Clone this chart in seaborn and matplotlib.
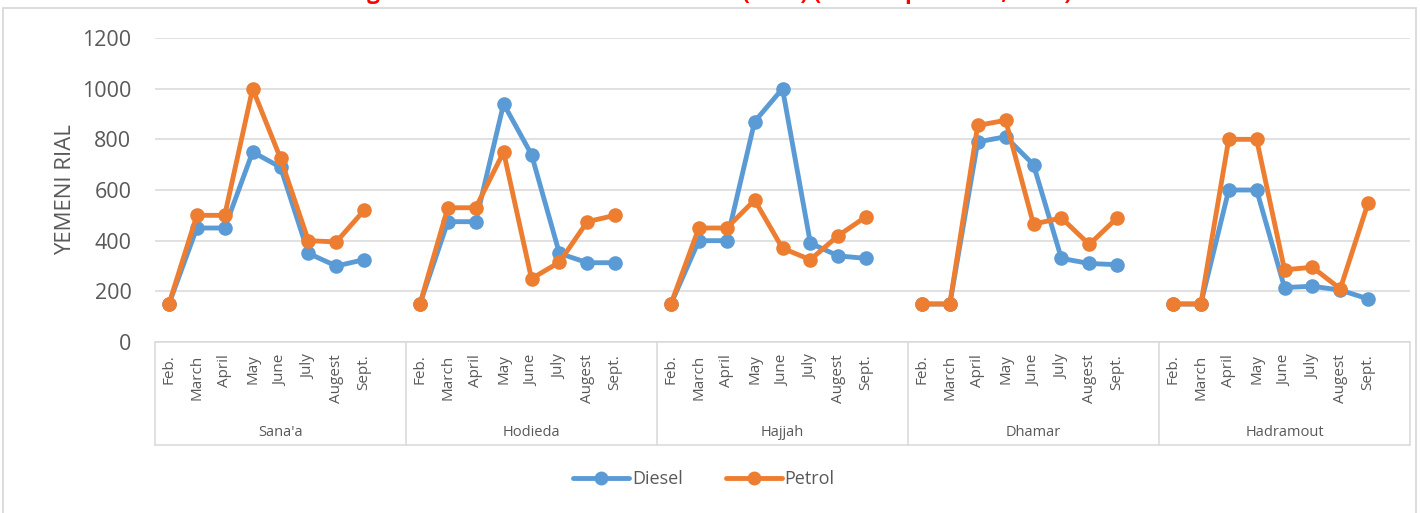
import matplotlib
matplotlib.use("Agg")
import matplotlib.pyplot as plt
import seaborn as sns
import pandas as pd
import numpy as np
from matplotlib.lines import Line2D
from matplotlib.patches import Rectangle

regions = ["Sana'a", "Hodieda", "Hajjah", "Dhamar", "Hadramout"]
months = ["Feb.", "March", "April", "May", "June", "July", "Augest", "Sept."]

diesel = {
    "Sana'a":    [150, 450, 450, 750, 690, 350, 300, 325],
    "Hodieda":   [150, 475, 475, 940, 740, 350, 313, 313],
    "Hajjah":    [150, 400, 400, 870, 1000, 390, 340, 330],
    "Dhamar":    [150, 150, 790, 810, 700, 330, 310, 305],
    "Hadramout": [150, 150, 600, 600, 215, 220, 205, 170],
}
petrol = {
    "Sana'a":    [150, 500, 500, 1000, 725, 400, 395, 520],
    "Hodieda":   [150, 530, 530, 750, 250, 315, 475, 500],
    "Hajjah":    [150, 450, 450, 560, 370, 325, 420, 495],
    "Dhamar":    [150, 150, 855, 875, 465, 490, 385, 490],
    "Hadramout": [150, 150, 800, 800, 285, 295, 210, 550],
}
series_names = ["Diesel", "Petrol"]
colors = {"Diesel": "#5B9BD5", "Petrol": "#ED7D31"}
yticks = [0, 200, 400, 600, 800, 1000, 1200]
title = "Figure 5: Prices of Diesel and Petrol (YR/L) (Feb - September, 2015)"

SLOTS = 9  # 8 months + one empty slot per region
rows = []
for g, r in enumerate(regions):
    for m, mon in enumerate(months):
        slot = g * SLOTS + m
        rows.append(dict(slot=slot, region=r, month=mon, fuel="Diesel", price=diesel[r][m]))
        rows.append(dict(slot=slot, region=r, month=mon, fuel="Petrol", price=petrol[r][m]))
df = pd.DataFrame(rows)

sns.set_theme(style="white")
plt.rcParams['font.family'] = ['Open Sans', 'DejaVu Sans']

fig = plt.figure(figsize=(14.2, 5.13), dpi=100)
W, H = 1420, 513
ax = fig.add_axes([155 / W, 1 - 342 / H, (1410 - 155) / W, (342 - 38) / H])

sns.lineplot(data=df, x="slot", y="price", hue="fuel", units="region", estimator=None,
             hue_order=series_names, palette=colors, marker="o", markersize=10.5,
             markeredgewidth=0, linewidth=3.5, legend=False, ax=ax, zorder=3)

ax.set_xlim(-0.5, len(regions) * SLOTS - 0.5)
ax.set_ylim(0, 1200)
ax.set_yticks(yticks)
ax.yaxis.grid(True, color="#D9D9D9", linewidth=1.1)
ax.xaxis.grid(False)
for s in ax.spines.values():
    s.set_visible(False)
ax.tick_params(axis="y", length=0, pad=17, labelsize=15.5, labelcolor="#595959")
ax.set_ylabel("YEMENI RIAL", fontsize=16, color="#595959", labelpad=4)
ax.set_xlabel("")

xt = [g * SLOTS + m for g in range(len(regions)) for m in range(len(months))]
xl = [mon for g in range(len(regions)) for mon in months]
ax.set_xticks(xt)
ax.set_xticklabels(xl, rotation=90, fontsize=11, color="#595959", va="top", ha="center")
ax.tick_params(axis="x", length=0, pad=9)

# category axis frame
line_kw = dict(color="#D9D9D9", linewidth=1.1, clip_on=False)
ybot = -(445 - 342) / (342 - 38)
trans = ax.get_xaxis_transform()
for g in range(len(regions) + 1):
    xb = g * SLOTS - 0.5
    ax.plot([xb, xb], [0, ybot], transform=trans, **line_kw)
ax.plot([-0.5, len(regions) * SLOTS - 0.5], [ybot, ybot], transform=trans, **line_kw)
ax.plot([-0.5, len(regions) * SLOTS - 0.5], [0, 0], transform=trans, **line_kw)
yreg = -(432 - 342) / (342 - 38)
for g, r in enumerate(regions):
    ax.text(g * SLOTS + 4, yreg, r, transform=trans, ha="center", va="center",
            fontsize=10.5, color="#595959")

handles = [Line2D([0], [0], color=colors[n], linewidth=3.5, marker="o", markersize=10,
                  markeredgewidth=0) for n in series_names]
fig.legend(handles, series_names, loc="center", bbox_to_anchor=(704 / W, 1 - 479 / H),
           ncol=2, frameon=False, fontsize=13, handlelength=3.1, columnspacing=2.4,
           handletextpad=0.15, labelcolor="#595959")

# chart area border
fig.patches.append(Rectangle((3 / W, -0.05), (1416 - 3) / W, 1.05 - 8 / H,
                             transform=fig.transFigure, fill=False,
                             edgecolor="#D9D9D9", linewidth=1.3))
fig.text(710 / W, 1 + 1 / H, title, ha="center", va="baseline", fontsize=16,
         fontweight="bold", color="#FF0000")

fig.savefig("out.png", dpi=100)
